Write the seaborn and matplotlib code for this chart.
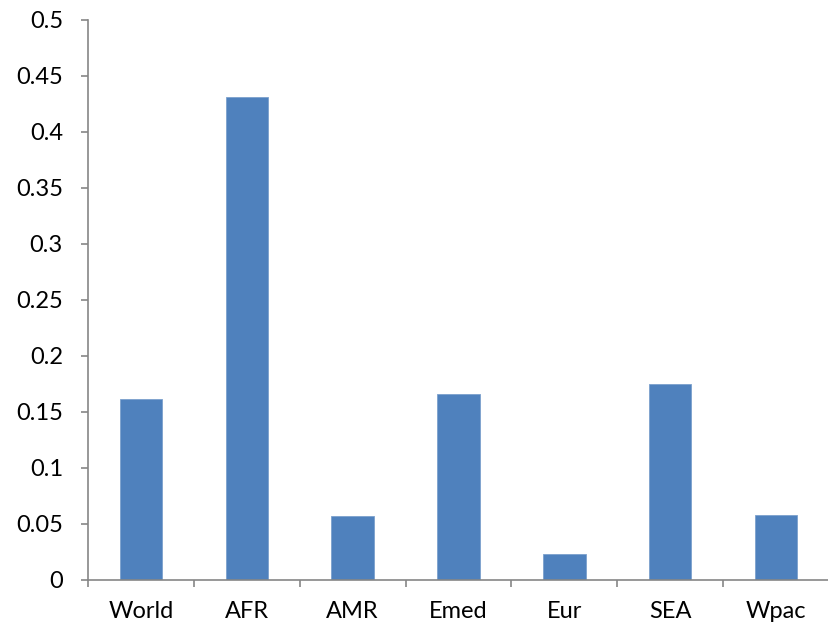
import matplotlib
matplotlib.use("Agg")
import matplotlib.pyplot as plt
from matplotlib.ticker import FixedLocator, FuncFormatter
import numpy as np
import pandas as pd
import seaborn as sns

# data
regions = ["World", "AFR", "AMR", "Emed", "Eur", "SEA", "Wpac"]
values = [0.162, 0.431, 0.057, 0.166, 0.023, 0.175, 0.058]
y_ticks = [0, 0.05, 0.1, 0.15, 0.2, 0.25, 0.3, 0.35, 0.4, 0.45, 0.5]

sns.set_theme(style="white")
plt.rcParams['font.family'] = ['Lato', 'DejaVu Sans']

df = pd.DataFrame({"region": regions, "value": values})

fig = plt.figure(figsize=(8.29, 6.32), dpi=100)
ax = fig.add_axes([88 / 829, 1 - 580 / 632, 1 - 88 / 829, (580 - 20) / 632])

sns.barplot(data=df, x="region", y="value", color="#4F81BD", width=0.4,
            saturation=1, edgecolor="#7BA0CD", linewidth=0.6, ax=ax)

axis_col = "#868686"
sns.despine(ax=ax, top=True, right=True)
for s in ["left", "bottom"]:
    ax.spines[s].set_color(axis_col)
    ax.spines[s].set_linewidth(1.2)

ax.set_xlim(-0.5, len(regions) - 0.5)
ax.set_ylim(0, 0.5)
ax.set_yticks(y_ticks)
ax.yaxis.set_major_formatter(FuncFormatter(lambda v, p: f"{v:g}"))
ax.tick_params(axis="y", which="major", left=True, length=5, width=1.2,
               color=axis_col, pad=13, labelsize=17, labelcolor="black")

# category boundary ticks on the x axis
ax.xaxis.set_minor_locator(FixedLocator(np.arange(-0.5, len(regions), 1.0)))
ax.tick_params(axis="x", which="major", length=0, pad=15, labelsize=17,
               labelcolor="black")
ax.tick_params(axis="x", which="minor", bottom=True, length=5, width=1.2,
               color=axis_col)

ax.set_xlabel("")
ax.set_ylabel("")
ax.grid(False)

fig.savefig("out.png", dpi=100)
